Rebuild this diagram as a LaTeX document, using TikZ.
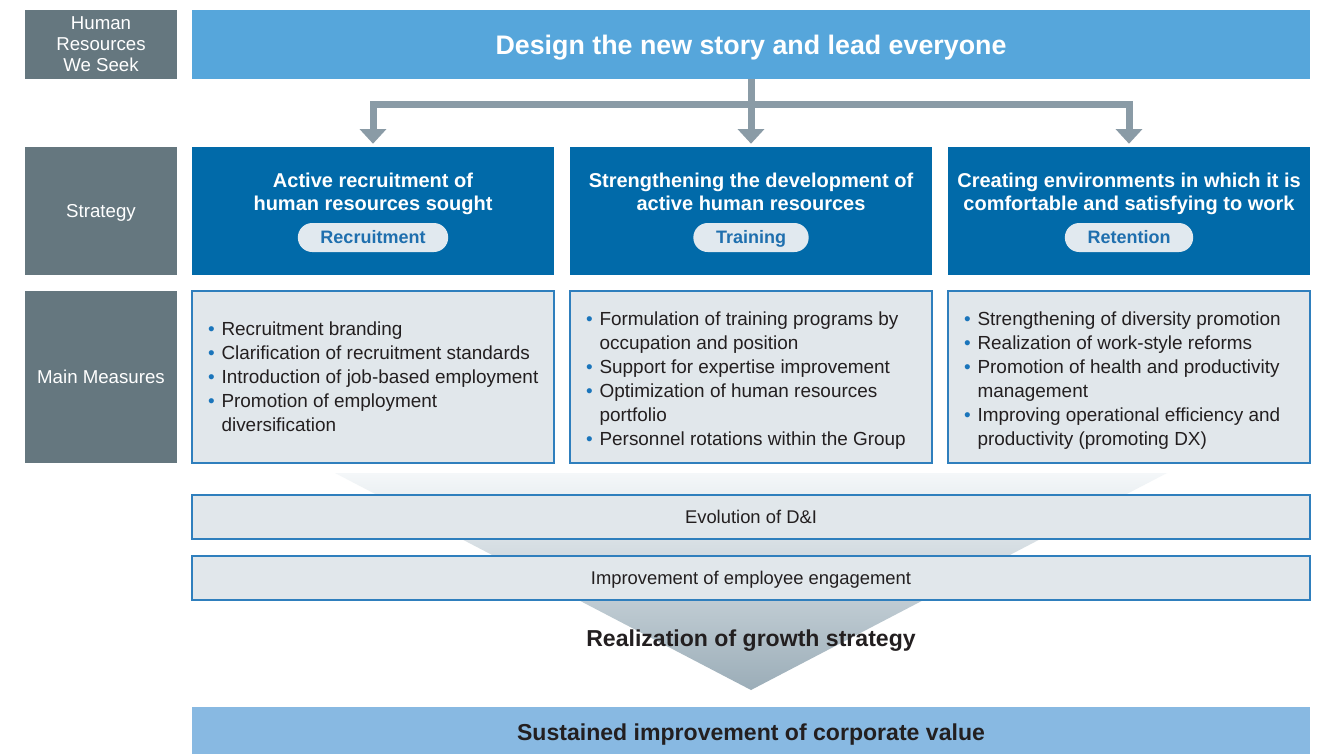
\documentclass[tikz,border=0pt]{standalone}
\usepackage{fontspec}
\setmainfont{Liberation Sans}
\usetikzlibrary{arrows.meta}
\definecolor{labelgray}{HTML}{65777F}
\definecolor{bannerblue}{HTML}{56A6DB}
\definecolor{stratblue}{HTML}{016AA9}
\definecolor{pillfill}{HTML}{E1E9EF}
\definecolor{pilltext}{HTML}{1F6FAE}
\definecolor{measfill}{HTML}{E1E7EB}
\definecolor{measline}{HTML}{2F7FBD}
\definecolor{bottomblue}{HTML}{88B9E2}
\definecolor{darktext}{HTML}{231F20}
\definecolor{arrowgray}{HTML}{8A9BA6}
\definecolor{funtop}{HTML}{F4F7F9}
\definecolor{funbot}{HTML}{9BADB8}
\definecolor{bulblue}{HTML}{1A75BB}
\newcommand{\bitem}{\makebox[10pt][l]{\textcolor{bulblue}{•}}}
\newcommand{\contline}{\hspace*{10pt}}
\tikzset{
  labelbox/.style={fill=labelgray, text=white, align=center, inner sep=0pt,
    minimum width=152*0.75pt, font=\fontsize{14}{15.75}\selectfont},
  stratbox/.style={fill=stratblue, minimum width=362*0.75pt, minimum height=128*0.75pt, inner sep=0pt},
  strattitle/.style={text=white, align=center, inner sep=0pt,
    font=\fontsize{15}{17.25}\selectfont\bfseries},
  pill/.style={fill=pillfill, text=pilltext, rounded corners=10.8pt, minimum height=21.75pt,
    inner xsep=17pt, inner ysep=0pt, text height=9.7pt, text depth=0pt,
    font=\fontsize{13.5}{15}\selectfont\bfseries},
  measbox/.style={fill=measfill, draw=measline, line width=1.1pt, minimum width=362*0.75pt,
    minimum height=172*0.75pt, inner sep=0pt},
  meastext/.style={text=darktext, align=left, inner sep=0pt, anchor=west,
    font=\fontsize{14.2}{18}\selectfont},
  widebox/.style={fill=measfill, draw=measline, line width=1.1pt, minimum width=1118*0.75pt,
    minimum height=44*0.75pt, inner sep=0pt, text=darktext, text height=9.9pt, text depth=0pt,
    font=\fontsize{13.8}{16}\selectfont},
  arrowline/.style={draw=arrowgray, line width=5.25pt},
}
\begin{document}
\begin{tikzpicture}[x=0.75pt,y=-0.75pt]
\useasboundingbox[fill=white] (0,0) rectangle (1326,754);
% funnel
\shade[top color=funtop, bottom color=funbot] (335,473) -- (1167,473) -- (751,690) -- cycle;

% left labels
\node[labelbox, minimum height=69*0.75pt] (lab1) at (101,44.5) {Human\\Resources\\We Seek};
\node[labelbox, minimum height=128*0.75pt, text height=10pt, text depth=0pt] (lab2) at (101,211) {Strategy};
\node[labelbox, minimum height=172*0.75pt, text height=10pt, text depth=0pt] (lab3) at (101,377) {Main Measures};

% top banner
\node[fill=bannerblue, minimum width=1118*0.75pt, minimum height=69*0.75pt, inner sep=0pt,
  text=white, text height=14.4pt, text depth=0pt, font=\fontsize{20.1}{22}\selectfont\bfseries] (top) at (751,44.5)
  {Design the new story and lead everyone};

% strategy boxes
\node[stratbox] (s1) at (373,211) {};
\node[stratbox] (s2) at (751,211) {};
\node[stratbox] (s3) at (1129,211) {};
\node[strattitle] (t1) at (373,194.5) {\strut Active recruitment of\\human resources sought\strut};
\node[strattitle] (t2) at (751,194.5) {\strut Strengthening the development of\\active human resources\strut};
\node[strattitle] (t3) at (1129,194.5) {\strut Creating environments in which it is\\comfortable and satisfying to work\strut};
\node[pill] (p1) at (373,237.5) {Recruitment};
\node[pill] (p2) at (751,237.5) {Training};
\node[pill] (p3) at (1129,237.5) {Retention};

% arrows
\coordinate (hub) at (751,104);
\draw[arrowline] (top.south) -- (hub);
\draw[arrowline, line cap=rect] (s1.north |- hub) -- (s3.north |- hub);
\foreach \s in {s1,s2,s3}{
  \draw[arrowline, -{Triangle[width=19.5pt,length=11pt]}, shorten >=2.25pt] (\s.north |- hub) -- (\s.north);
}

% measures
\node[measbox] (m1) at (373,377) {};
\node[measbox] (m2) at (751,377) {};
\node[measbox] (m3) at (1129,377) {};
\node[meastext] (mt1) at ([xshift=12.5pt,yshift=-1.5pt]m1.west) {\strut\bitem Recruitment branding\\
\bitem Clarification of recruitment standards\\
\bitem Introduction of job-based employment\\
\bitem Promotion of employment\\
\contline diversification\strut};
\node[meastext] (mt2) at ([xshift=12.5pt,yshift=-3pt]m2.west) {\strut\bitem Formulation of training programs by\\
\contline occupation and position\\
\bitem Support for expertise improvement\\
\bitem Optimization of human resources\\
\contline portfolio\\
\bitem Personnel rotations within the Group\strut};
\node[meastext] (mt3) at ([xshift=12.5pt,yshift=-3pt]m3.west) {\strut\bitem Strengthening of diversity promotion\\
\bitem Realization of work-style reforms\\
\bitem Promotion of health and productivity\\
\contline management\\
\bitem Improving operational efficiency and\\
\contline productivity (promoting DX)\strut};

% wide boxes
\node[widebox] (di) at (751,517) {Evolution of D\&I};
\node[widebox] (eng) at (751,578) {Improvement of employee engagement};

\node[text=darktext, inner sep=0pt, text height=12.4pt, text depth=0pt,
  font=\fontsize{17.3}{20}\selectfont\bfseries] (growth) at (751,638)
  {Realization of growth strategy};

\node[fill=bottomblue, minimum width=1118*0.75pt, minimum height=47*0.75pt, inner sep=0pt] (value) at (751,730.5) {};
\node[text=darktext, inner sep=0pt, text height=12.4pt, text depth=0pt,
  font=\fontsize{17.3}{20}\selectfont\bfseries] (valuetext) at (751,732)
  {Sustained improvement of corporate value};
\end{tikzpicture}
\end{document}
